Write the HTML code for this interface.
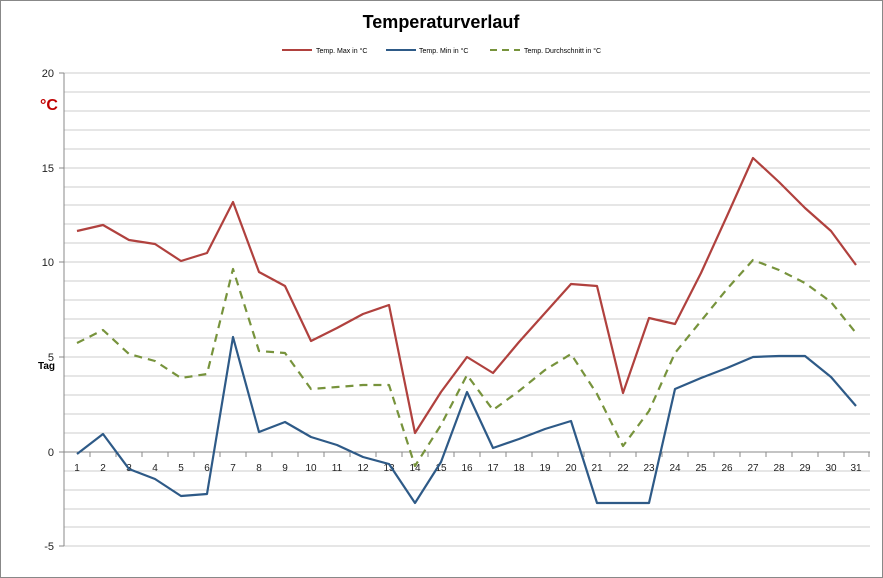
<!DOCTYPE html>
<html><head><meta charset="utf-8"><style>
html,body{margin:0;padding:0;background:#fff;}
svg{display:block;font-family:"Liberation Sans",sans-serif;}
</style></head><body>
<svg width="883" height="578" viewBox="0 0 883 578">
<rect x="0.5" y="0.5" width="882" height="577" fill="#fff" stroke="#888"/>
<text x="441" y="28" text-anchor="middle" font-size="18" font-weight="bold">Temperaturverlauf</text>
<line x1="282" y1="50" x2="312" y2="50" stroke="#b0413e" stroke-width="2"/>
<text x="316" y="53" font-size="7">Temp. Max in °C</text>
<line x1="386" y1="50" x2="416" y2="50" stroke="#2e5a87" stroke-width="2"/>
<text x="419" y="53" font-size="7">Temp. Min in °C</text>
<line x1="490" y1="50" x2="520" y2="50" stroke="#77933c" stroke-width="2" stroke-dasharray="7,5"/>
<text x="524" y="53" font-size="7">Temp. Durchschnitt in °C</text>
<g stroke="#cccccc" stroke-width="1">
<line x1="64" x2="870" y1="73" y2="73"/><line x1="64" x2="870" y1="92" y2="92"/><line x1="64" x2="870" y1="111" y2="111"/><line x1="64" x2="870" y1="130" y2="130"/><line x1="64" x2="870" y1="149" y2="149"/><line x1="64" x2="870" y1="168" y2="168"/><line x1="64" x2="870" y1="187" y2="187"/><line x1="64" x2="870" y1="205" y2="205"/><line x1="64" x2="870" y1="224" y2="224"/><line x1="64" x2="870" y1="243" y2="243"/><line x1="64" x2="870" y1="262" y2="262"/><line x1="64" x2="870" y1="281" y2="281"/><line x1="64" x2="870" y1="300" y2="300"/><line x1="64" x2="870" y1="319" y2="319"/><line x1="64" x2="870" y1="338" y2="338"/><line x1="64" x2="870" y1="357" y2="357"/><line x1="64" x2="870" y1="376" y2="376"/><line x1="64" x2="870" y1="395" y2="395"/><line x1="64" x2="870" y1="414" y2="414"/><line x1="64" x2="870" y1="433" y2="433"/><line x1="64" x2="870" y1="471" y2="471"/><line x1="64" x2="870" y1="490" y2="490"/><line x1="64" x2="870" y1="509" y2="509"/><line x1="64" x2="870" y1="527" y2="527"/><line x1="64" x2="870" y1="546" y2="546"/>
</g>
<g stroke="#888" stroke-width="1">
<line x1="64" y1="73" x2="64" y2="546"/>
<line x1="64" y1="452" x2="870" y2="452"/>
<line x1="59" x2="64" y1="73" y2="73"/><line x1="59" x2="64" y1="168" y2="168"/><line x1="59" x2="64" y1="262" y2="262"/><line x1="59" x2="64" y1="357" y2="357"/><line x1="59" x2="64" y1="452" y2="452"/><line x1="59" x2="64" y1="546" y2="546"/>
<path d="M90,452v5M116,452v5M142,452v5M168,452v5M194,452v5M220,452v5M246,452v5M272,452v5M298,452v5M324,452v5M350,452v5M376,452v5M402,452v5M428,452v5M454,452v5M480,452v5M506,452v5M532,452v5M558,452v5M584,452v5M610,452v5M636,452v5M662,452v5M688,452v5M714,452v5M740,452v5M766,452v5M792,452v5M818,452v5M844,452v5M869,452v5"/>
</g>
<g font-size="11" text-anchor="end" fill="#222">
<text x="54" y="77">20</text><text x="54" y="172">15</text><text x="54" y="266">10</text><text x="54" y="361">5</text><text x="54" y="456">0</text><text x="54" y="550">-5</text>
</g>
<text x="40" y="110" font-size="16" font-weight="bold" fill="#c00000">°C</text>
<text x="38" y="369" font-size="10" font-weight="bold">Tag</text>
<g font-size="10" text-anchor="middle" fill="#222">
<text x="77" y="471">1</text><text x="103" y="471">2</text><text x="129" y="471">3</text><text x="155" y="471">4</text><text x="181" y="471">5</text><text x="207" y="471">6</text><text x="233" y="471">7</text><text x="259" y="471">8</text><text x="285" y="471">9</text><text x="311" y="471">10</text><text x="337" y="471">11</text><text x="363" y="471">12</text><text x="389" y="471">13</text><text x="415" y="471">14</text><text x="441" y="471">15</text><text x="467" y="471">16</text><text x="493" y="471">17</text><text x="519" y="471">18</text><text x="545" y="471">19</text><text x="571" y="471">20</text><text x="597" y="471">21</text><text x="623" y="471">22</text><text x="649" y="471">23</text><text x="675" y="471">24</text><text x="701" y="471">25</text><text x="727" y="471">26</text><text x="753" y="471">27</text><text x="779" y="471">28</text><text x="805" y="471">29</text><text x="831" y="471">30</text><text x="856" y="471">31</text>
</g>
<polyline fill="none" stroke="#b0413e" stroke-width="2.2" stroke-linejoin="round" points="77,231 103,225 129,240 155,244 181,261 207,253 233,202 259,272 285,286 311,341 337,328 363,314 389,305 415,433 441,392 467,357 493,373 519,342 545,313 571,284 597,286 623,393 649,318 675,324 701,273 727,216 753,158 779,182 805,208 831,231 856,265"/>
<polyline fill="none" stroke="#2e5a87" stroke-width="2.2" stroke-linejoin="round" points="77,454 103,434 129,469 155,479 181,496 207,494 233,337 259,432 285,422 311,437 337,445 363,457 389,464 415,503 441,462 467,392 493,448 519,439 545,429 571,421 597,503 623,503 649,503 675,389 701,378 727,368 753,357 779,356 805,356 831,377 856,406"/>
<polyline fill="none" stroke="#77933c" stroke-width="2.2" stroke-dasharray="8,6" stroke-linejoin="round" points="77,343 103,330 129,354 155,361 181,378 207,374 233,269 259,351 285,353 311,389 337,387 363,385 389,385 415,466 441,425 467,375 493,410 519,391 545,370 571,354 597,394 623,446 649,411 675,353 701,321 727,289 753,260 779,270 805,283 831,302 856,333"/>
</svg>
</body></html>
